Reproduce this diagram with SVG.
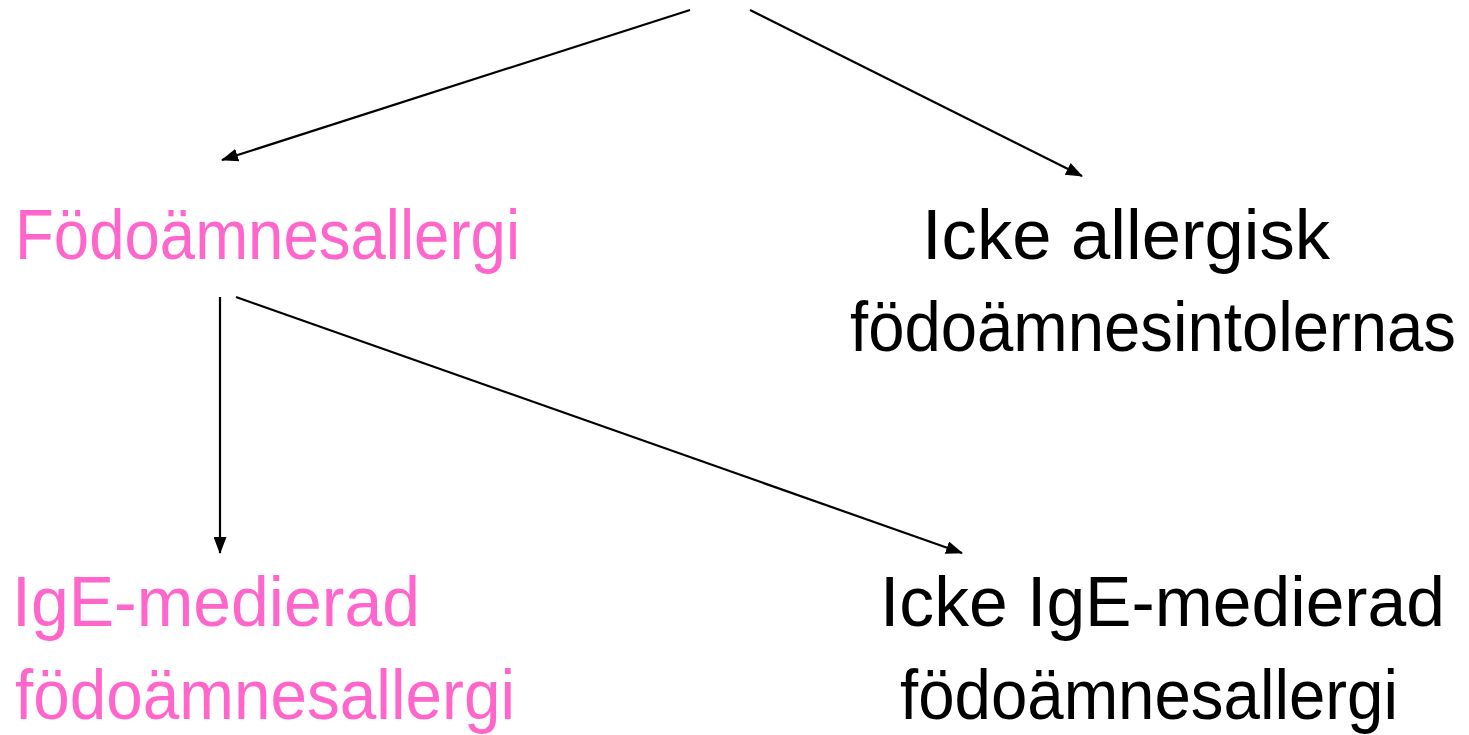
<svg xmlns="http://www.w3.org/2000/svg" width="1469" height="735" viewBox="0 0 1469 735">
  <style>
    .t { font-family: "Comic Sans MS", "Liberation Sans", sans-serif; font-size: 70px; }
    .pink { fill: #ff66cc; }
    .black { fill: #000000; }
    .edge { stroke: #000000; stroke-width: 2.2; fill: none; marker-end: url(#arrow); }
  </style>
  <defs>
    <marker id="arrow" viewBox="0 0 17 13" refX="16" refY="6.5" markerWidth="17" markerHeight="13" markerUnits="userSpaceOnUse" orient="auto">
      <path d="M0,0 L17,6.5 L0,13 Z" fill="#000000"/>
    </marker>
  </defs>
  <rect width="1469" height="735" fill="#ffffff"/>

  <g id="connectors">
    <line class="edge" x1="690" y1="10" x2="222" y2="160"/>
    <line class="edge" x1="750" y1="10" x2="1082" y2="176"/>
    <line class="edge" x1="220" y1="297" x2="220" y2="553"/>
    <line class="edge" x1="236" y1="297" x2="962" y2="553"/>
  </g>

  <g id="food-allergy">
    <text class="t pink" x="15" y="259" textLength="505" lengthAdjust="spacingAndGlyphs">Födoämnesallergi</text>
  </g>

  <g id="non-allergic-intolerance">
    <text class="t black" x="922" y="259" textLength="408" lengthAdjust="spacingAndGlyphs">Icke allergisk</text>
    <text class="t black" x="850" y="351" textLength="606" lengthAdjust="spacingAndGlyphs">födoämnesintolernas</text>
  </g>

  <g id="ige-mediated">
    <text class="t pink" x="12" y="626" textLength="408" lengthAdjust="spacingAndGlyphs">IgE-medierad</text>
    <text class="t pink" x="15" y="719" textLength="500" lengthAdjust="spacingAndGlyphs">födoämnesallergi</text>
  </g>

  <g id="non-ige-mediated">
    <text class="t black" x="880" y="626" textLength="565" lengthAdjust="spacingAndGlyphs">Icke IgE-medierad</text>
    <text class="t black" x="900" y="719" textLength="498" lengthAdjust="spacingAndGlyphs">födoämnesallergi</text>
  </g>
</svg>
